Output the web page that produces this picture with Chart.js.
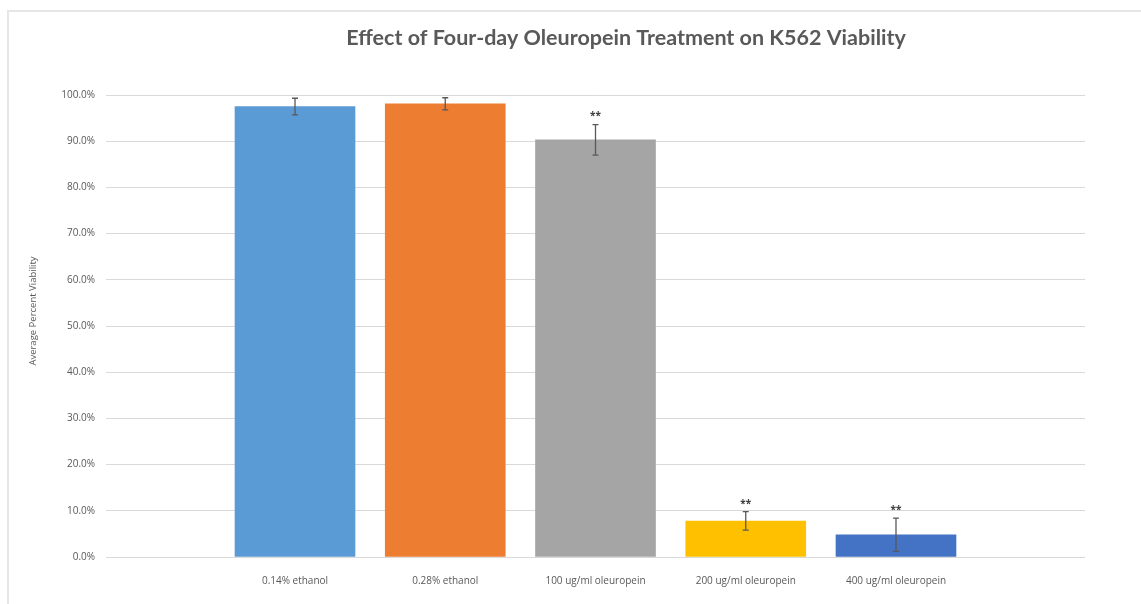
<!DOCTYPE html>
<html>
<head>
<meta charset="utf-8">
<script src="https://cdn.jsdelivr.net/npm/chart.js@4.4.1/dist/chart.umd.min.js"></script>
<style>
  html, body { margin: 0; padding: 0; background: #ffffff; }
  #wrap { position: relative; width: 1141px; height: 604px; overflow: hidden; }
  #frame { position: absolute; left: 7px; top: 10px; width: 1200px; height: 700px;
           border-top: 2px solid #e6e6e6; border-left: 2px solid #e6e6e6; box-sizing: border-box; }
  canvas { position: absolute; left: 0; top: 0; }
</style>
</head>
<body>
<div id="wrap">
  <div id="frame"></div>
  <canvas id="c" width="1141" height="604"></canvas>
</div>
<script>
const chartTitle = 'Effect of Four-day Oleuropein Treatment on K562 Viability';
const yAxisTitle = 'Average Percent Viability';
const categories = ['0.14% ethanol', '0.28% ethanol', '100 ug/ml oleuropein', '200 ug/ml oleuropein', '400 ug/ml oleuropein'];
const viability = [97.5, 98.1, 90.3, 7.8, 4.8];
const errors = [1.8, 1.3, 3.3, 2.0, 3.6];
const significance = ['', '', '**', '**', '**'];
const barColors = ['#5B9BD5', '#ED7D31', '#A5A5A5', '#FFC000', '#4472C4'];
const positions = [1, 2, 3, 4, 5];

const extrasPlugin = {
  id: 'extras',
  afterDatasetsDraw(chart) {
    const ctx = chart.ctx;
    const xs = chart.scales.x, ys = chart.scales.y;
    ctx.save();
    ctx.strokeStyle = '#595959';
    ctx.lineWidth = 1.3;
    viability.forEach((v, i) => {
      const x = xs.getPixelForValue(positions[i]);
      const yTop = ys.getPixelForValue(v + errors[i]);
      const yBot = ys.getPixelForValue(v - errors[i]);
      ctx.beginPath();
      ctx.moveTo(x, yTop); ctx.lineTo(x, yBot);
      ctx.moveTo(x - 3, yTop); ctx.lineTo(x + 3, yTop);
      ctx.moveTo(x - 3, yBot); ctx.lineTo(x + 3, yBot);
      ctx.stroke();
      if (significance[i]) {
        ctx.fillStyle = '#404040';
        ctx.font = 'bold 10px "Open Sans"';
        ctx.textAlign = 'center';
        ctx.textBaseline = 'middle';
        ctx.fillText(significance[i], x, yTop - 8);
      }
    });
    // chart title
    ctx.fillStyle = '#595959';
    ctx.font = 'bold 21.5px Lato';
    ctx.textAlign = 'center';
    ctx.textBaseline = 'middle';
    ctx.fillText(chartTitle, 626, 38);
    // y axis title
    ctx.translate(33, 311);
    ctx.rotate(-Math.PI / 2);
    ctx.font = '9.5px "Open Sans"';
    ctx.fillText(yAxisTitle, 0, 0);
    ctx.restore();
  }
};

new Chart(document.getElementById('c'), {
  type: 'bar',
  data: {
    datasets: [{
      data: positions.map((p, i) => ({ x: p, y: viability[i] })),
      backgroundColor: barColors,
      borderWidth: 0,
      barThickness: 120
    }]
  },
  options: {
    responsive: false,
    animation: false,
    devicePixelRatio: 1,
    layout: { padding: { left: 24, right: 56, top: 95, bottom: 0 } },
    plugins: { legend: { display: false }, tooltip: { enabled: false }, title: { display: false } },
    scales: {
      x: {
        type: 'linear',
        min: -0.258,
        max: 6.258,
        offset: false,
        grid: { display: false, drawTicks: false },
        border: { display: false },
        afterBuildTicks(scale) { scale.ticks = positions.map(p => ({ value: p })); },
        afterFit(scale) { scale.height = 47; },
        ticks: {
          autoSkip: false,
          maxRotation: 0,
          padding: 18,
          color: '#595959',
          font: { family: 'Open Sans', size: 10 },
          callback: (v) => categories[positions.indexOf(v)] || ''
        }
      },
      y: {
        min: 0,
        max: 100,
        grid: { color: '#d9d9d9', lineWidth: 1, drawTicks: false },
        border: { display: false },
        afterFit(scale) { scale.width = 82; },
        ticks: {
          stepSize: 10,
          padding: 11,
          color: '#595959',
          font: { family: 'Open Sans', size: 10 },
          callback: (v) => v.toFixed(1) + '%'
        }
      }
    }
  },
  plugins: [extrasPlugin]
});
</script>
</body>
</html>
